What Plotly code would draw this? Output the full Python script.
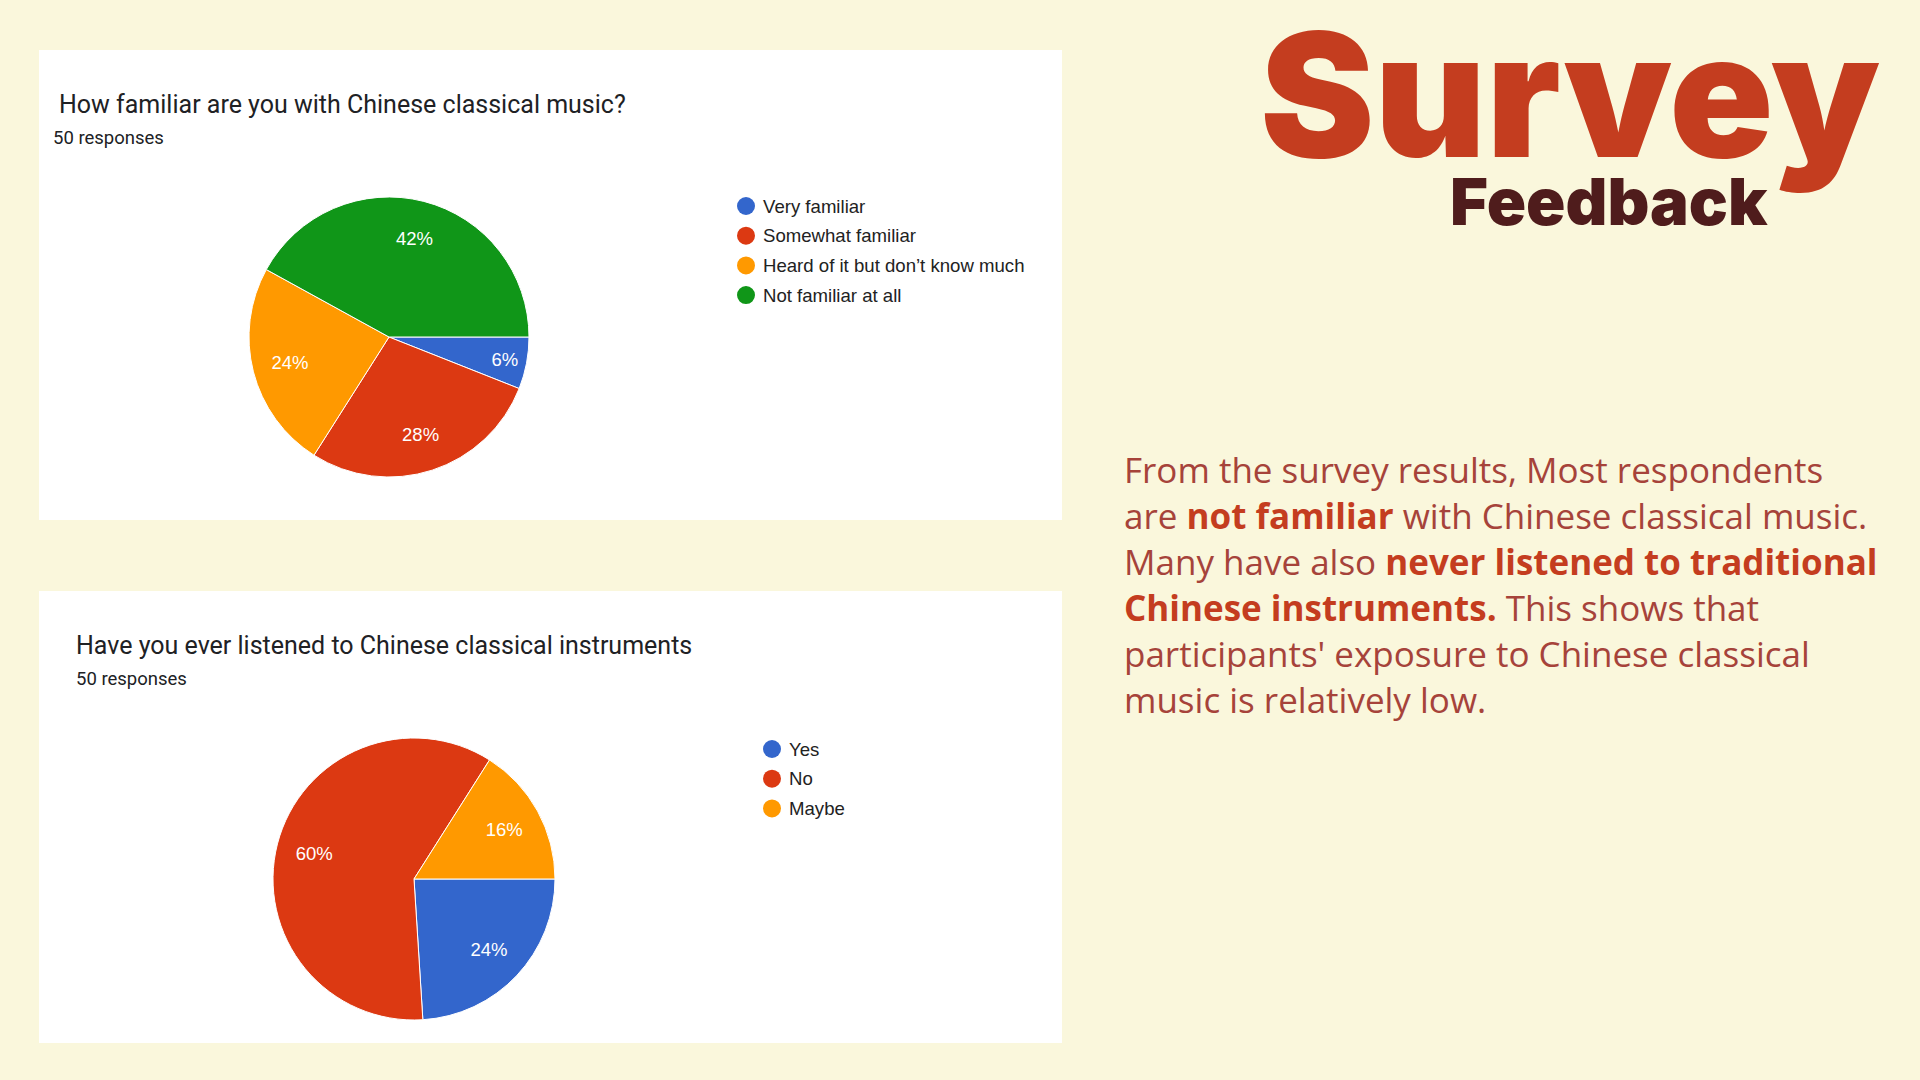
import plotly.graph_objects as go

W, H = 1920, 1080

# survey answers (50 responses each)
q1_title = "How familiar are you with Chinese classical music?"
q1_labels = ["Very familiar", "Somewhat familiar", "Heard of it but don\u2019t know much", "Not familiar at all"]
q1_counts = [3, 14, 12, 21]

q2_title = "Have you ever listened to Chinese classical instruments"
q2_labels = ["Yes", "No", "Maybe"]
q2_counts = [12, 30, 8]

responses_text = "50 responses"

q1_colors = ["#3366CC", "#DC3912", "#FF9900", "#109618"]
q2_colors = ["#3366CC", "#DC3912", "#FF9900"]

summary_lines = [
    "From the survey results, Most respondents",
    "are <b>not familiar</b> with Chinese classical music.",
    "Many have also <b>never listened to traditional</b>",
    "<b>Chinese instruments.</b> This shows that",
    "participants' exposure to Chinese classical",
    "music is relatively low.",
]

BG = "#FAF7DC"
RUST = "#C43D1F"
BROWN = "#4F1C1C"
BODY = "#A6433A"
INK = "#202124"
CHART_FONT = "Liberation Sans, Arial"


def px(x):
    return x / W


def py(y):
    return 1 - y / H


def pie_domain(cx, cy, r):
    return dict(x=[px(cx - r), px(cx + r)], y=[py(cy + r), py(cy - r)])


fig = go.Figure()


def add_pie(labels, counts, colors, dom):
    # coloured slices
    fig.add_trace(go.Pie(
        labels=labels, values=counts, sort=False,
        direction="clockwise", rotation=90,
        marker=dict(colors=colors, line=dict(color="white", width=1)),
        textinfo="none", domain=dom, showlegend=False,
        hoverinfo="label+percent",
    ))
    # transparent ring on top carries the percent labels further out, like Google charts
    fig.add_trace(go.Pie(
        labels=labels, values=counts, sort=False,
        direction="clockwise", rotation=90, hole=0.46,
        marker=dict(colors=["rgba(0,0,0,0)"] * len(labels), line=dict(width=0)),
        texttemplate="%{percent:.0%}",
        textposition="inside", insidetextorientation="horizontal",
        textfont=dict(family=CHART_FONT, size=18.5, color="white"),
        domain=dom, showlegend=False, hoverinfo="skip",
    ))


add_pie(q1_labels, q1_counts, q1_colors, pie_domain(389, 337, 140))
add_pie(q2_labels, q2_counts, q2_colors, pie_domain(414, 879, 141))

shapes = []
annotations = []

# white card panels
for (x0, y0, x1, y1) in [(39, 50, 1062, 520), (39, 591, 1062, 1043)]:
    shapes.append(dict(type="rect", xref="paper", yref="paper",
                       x0=px(x0), x1=px(x1), y0=py(y1), y1=py(y0),
                       fillcolor="white", line=dict(width=0), layer="below"))


def card_text(x, y, text, size, color=INK, family="Roboto"):
    annotations.append(dict(x=px(x), y=py(y), xref="paper", yref="paper",
                            text=text, showarrow=False, xanchor="left", yanchor="middle",
                            font=dict(family=family, size=size, color=color)))


card_text(57, 104, q1_title, 25)
card_text(51, 138, responses_text, 18.5)
card_text(74, 645, q2_title, 25)
card_text(74, 679, responses_text, 18.5)


# legends with round markers
def legend(labels, colors, x_dot, y_first, step):
    for i, (lab, col) in enumerate(zip(labels, colors)):
        yc = y_first + i * step
        r = 9
        shapes.append(dict(type="circle", xref="paper", yref="paper",
                           x0=px(x_dot - r), x1=px(x_dot + r),
                           y0=py(yc + r), y1=py(yc - r),
                           fillcolor=col, line=dict(width=0)))
        card_text(x_dot + 15, yc, lab, 18.6, "#222222", CHART_FONT)


legend(q1_labels, q1_colors, 746, 206, 29.7)
legend(q2_labels, q2_colors, 772, 749, 29.7)

# heading
annotations.append(dict(x=px(1258), y=py(94), xref="paper", yref="paper",
                        text="Survey", showarrow=False, xanchor="left", yanchor="middle",
                        font=dict(family="Inter", size=172, color=RUST, weight=900)))
annotations.append(dict(x=px(1448), y=py(202), xref="paper", yref="paper",
                        text="Feedback", showarrow=False, xanchor="left", yanchor="middle",
                        font=dict(family="Inter", size=65, color=BROWN, weight=900)))

# summary paragraph
for i, line in enumerate(summary_lines):
    line = line.replace("<b>", "<span style='color:%s'><b>" % RUST).replace("</b>", "</b></span>")
    annotations.append(dict(x=px(1122), y=py(469 + i * 46), xref="paper", yref="paper",
                            text=line, showarrow=False, xanchor="left", yanchor="middle",
                            font=dict(family="Open Sans", size=35, color=BODY)))

fig.update_layout(
    width=W, height=H,
    margin=dict(l=0, r=0, t=0, b=0),
    paper_bgcolor=BG, plot_bgcolor=BG,
    shapes=shapes, annotations=annotations,
)

fig.write_html("out.html", config={"displayModeBar": False},
               post_script="document.body.style.margin='0';")
